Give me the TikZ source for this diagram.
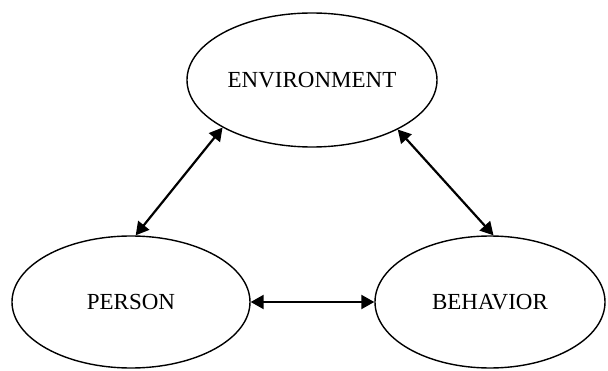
\documentclass[tikz,border=0pt]{standalone}
\usepackage{fontspec}
\setmainfont{Liberation Serif}
\usetikzlibrary{shapes.geometric,arrows.meta}
\begin{document}
\begin{tikzpicture}[x=1pt,y=1pt,
  oval/.style={ellipse,draw,line width=1.4pt,inner sep=0pt,font=\fontsize{23}{27}\selectfont},
  link/.style={line width=2.2pt,{Triangle[length=13pt,width=14pt]}-{Triangle[length=13pt,width=14pt]}}]
\useasboundingbox[fill=white] (0,0) rectangle (608,370);
\node[oval,minimum width=250pt,minimum height=134pt] (env) at (312,290) {\raisebox{-3pt}{ENVIRONMENT}};
\node[oval,minimum width=238pt,minimum height=132pt] (per) at (131,68) {\raisebox{-1pt}{PERSON}};
\node[oval,minimum width=230pt,minimum height=132pt] (beh) at (490,68) {\raisebox{-1pt}{BEHAVIOR}};
\draw[link] (env.208) -- (per.86);
\draw[link] (env.330) -- (beh.87);
\draw[link] (per.east) -- (beh.west);
\end{tikzpicture}
\end{document}
